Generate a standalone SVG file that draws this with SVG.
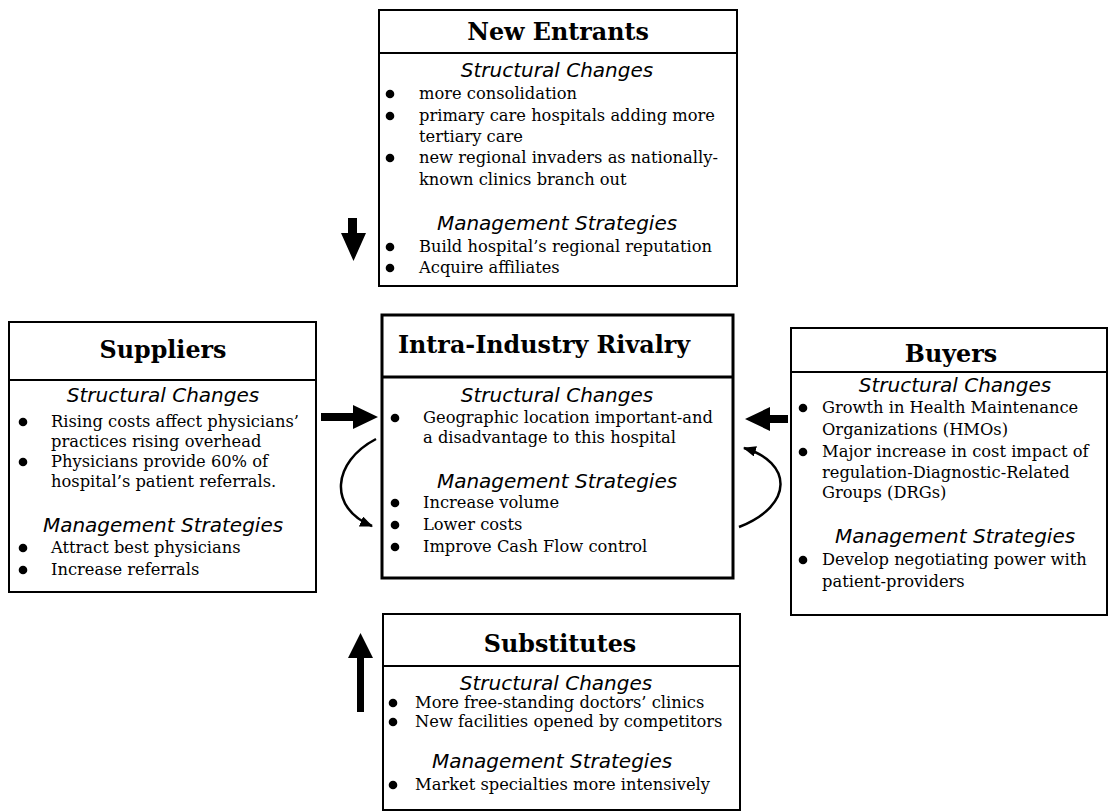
<svg xmlns="http://www.w3.org/2000/svg" width="1109" height="811" viewBox="0 0 1109 811">
<style>
.box{fill:#fff;stroke:#000;stroke-width:2}
.cbox{fill:#fff;stroke:#000;stroke-width:3}
.div{stroke:#000;stroke-width:2}
.title{font-family:"DejaVu Serif",serif;font-weight:bold;font-size:23.8px;text-anchor:middle;fill:#000}
.sub{font-family:"DejaVu Sans",sans-serif;font-style:italic;font-size:20px;text-anchor:middle;fill:#000}
.body{font-family:"DejaVu Serif",serif;font-size:16.3px;fill:#000}
.dot{fill:#000}
.curve{fill:none;stroke:#000;stroke-width:2.5}
.solid{fill:#000;stroke:none}
</style>
<defs>
<marker id="head" viewBox="0 0 12 10" refX="11" refY="5" markerWidth="13" markerHeight="11" markerUnits="userSpaceOnUse" orient="auto">
<path d="M0,0 L12,5 L0,10 z" fill="#000"/>
</marker>
</defs>
<rect width="1109" height="811" fill="#fff"/>

<g id="new-entrants">
<rect class="box" x="379" y="10" width="358" height="276"/>
<line class="div" x1="379" y1="53" x2="737" y2="53"/>
<text class="title" x="558" y="40">New Entrants</text>
<text class="sub" x="557" y="77">Structural Changes</text>
<circle class="dot" cx="390" cy="94" r="4.3"/>
<circle class="dot" cx="390" cy="116" r="4.3"/>
<circle class="dot" cx="390" cy="158" r="4.3"/>
<text class="body" x="419" y="99">more consolidation</text>
<text class="body" x="419" y="121">primary care hospitals adding more</text>
<text class="body" x="419" y="142">tertiary care</text>
<text class="body" x="419" y="163">new regional invaders as nationally-</text>
<text class="body" x="419" y="185">known clinics branch out</text>
<text class="sub" x="557" y="230">Management Strategies</text>
<circle class="dot" cx="390" cy="247" r="4.3"/>
<circle class="dot" cx="390" cy="268" r="4.3"/>
<text class="body" x="419" y="252">Build hospital’s regional reputation</text>
<text class="body" x="419" y="273">Acquire affiliates</text>
</g>

<g id="suppliers">
<rect class="box" x="9" y="322" width="307" height="270"/>
<line class="div" x1="9" y1="380" x2="316" y2="380"/>
<text class="title" x="163" y="358">Suppliers</text>
<text class="sub" x="163" y="402">Structural Changes</text>
<circle class="dot" cx="23" cy="422" r="4.3"/>
<circle class="dot" cx="23" cy="462" r="4.3"/>
<text class="body" x="51" y="427">Rising costs affect physicians’</text>
<text class="body" x="51" y="447">practices rising overhead</text>
<text class="body" x="51" y="467">Physicians provide 60% of</text>
<text class="body" x="51" y="487">hospital’s patient referrals.</text>
<text class="sub" x="163" y="532">Management Strategies</text>
<circle class="dot" cx="23" cy="548" r="4.3"/>
<circle class="dot" cx="23" cy="570" r="4.3"/>
<text class="body" x="51" y="553">Attract best physicians</text>
<text class="body" x="51" y="575">Increase referrals</text>
</g>

<g id="rivalry">
<rect class="cbox" x="382" y="315" width="351" height="263"/>
<line class="cbox" x1="382" y1="377" x2="733" y2="377"/>
<text class="title" x="544" y="353">Intra-Industry Rivalry</text>
<text class="sub" x="557" y="402">Structural Changes</text>
<circle class="dot" cx="395" cy="418" r="4.3"/>
<text class="body" x="423" y="423">Geographic location important-and</text>
<text class="body" x="423" y="443">a disadvantage to this hospital</text>
<text class="sub" x="557" y="488">Management Strategies</text>
<circle class="dot" cx="395" cy="503" r="4.3"/>
<circle class="dot" cx="395" cy="525" r="4.3"/>
<circle class="dot" cx="395" cy="547" r="4.3"/>
<text class="body" x="423" y="508">Increase volume</text>
<text class="body" x="423" y="530">Lower costs</text>
<text class="body" x="423" y="552">Improve Cash Flow control</text>
</g>

<g id="buyers">
<rect class="box" x="791" y="328" width="316" height="287"/>
<line class="div" x1="791" y1="372" x2="1107" y2="372"/>
<text class="title" x="951" y="362">Buyers</text>
<text class="sub" x="955" y="392">Structural Changes</text>
<circle class="dot" cx="803" cy="408" r="4.3"/>
<circle class="dot" cx="803" cy="452" r="4.3"/>
<text class="body" x="822" y="413">Growth in Health Maintenance</text>
<text class="body" x="822" y="435">Organizations (HMOs)</text>
<text class="body" x="822" y="457">Major increase in cost impact of</text>
<text class="body" x="822" y="478">regulation-Diagnostic-Related</text>
<text class="body" x="822" y="498">Groups (DRGs)</text>
<text class="sub" x="955" y="543">Management Strategies</text>
<circle class="dot" cx="803" cy="560" r="4.3"/>
<text class="body" x="822" y="565">Develop negotiating power with</text>
<text class="body" x="822" y="587">patient-providers</text>
</g>

<g id="substitutes">
<rect class="box" x="383" y="614" width="357" height="196"/>
<line class="div" x1="383" y1="666" x2="740" y2="666"/>
<text class="title" x="560" y="652">Substitutes</text>
<text class="sub" x="556" y="690">Structural Changes</text>
<circle class="dot" cx="393" cy="703" r="4.3"/>
<circle class="dot" cx="393" cy="722" r="4.3"/>
<text class="body" x="415" y="708">More free-standing doctors’ clinics</text>
<text class="body" x="415" y="727">New facilities opened by competitors</text>
<text class="sub" x="552" y="768">Management Strategies</text>
<circle class="dot" cx="393" cy="785" r="4.3"/>
<text class="body" x="415" y="790">Market specialties more intensively</text>
</g>

<g id="connectors">
<path class="solid" d="M348,218 L357,218 L357,233 L366,233 L353.5,261 L341,233 L348,233 z"/>
<path class="solid" d="M357,712 L364,712 L364,658 L373,658 L360.5,633 L348,658 L357,658 z"/>
<path class="solid" d="M321,413 L353,413 L353,405 L378,417 L353,429 L353,421 L321,421 z"/>
<path class="solid" d="M788,415 L770,415 L770,407 L745,419 L770,431 L770,423 L788,423 z"/>
<path class="curve" d="M376,439 C332,462 328,508 372,526" marker-end="url(#head)"/>
<path class="curve" d="M739,527 C795,505 792,462 744,448" marker-end="url(#head)"/>
</g>
</svg>
